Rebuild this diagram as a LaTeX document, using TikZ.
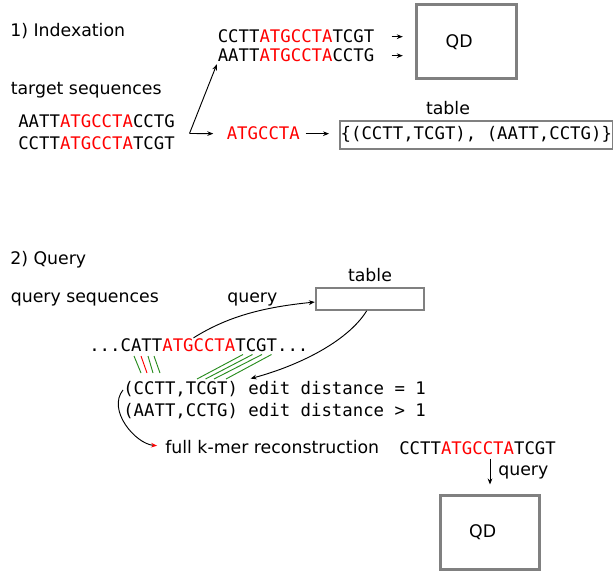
\documentclass[tikz,border=0pt]{standalone}
\usepackage{fontspec}
\setmainfont{DejaVu Sans}
\setmonofont{DejaVu Sans Mono}
\usetikzlibrary{arrows.meta,positioning,calc}

\definecolor{matchgreen}{RGB}{40,140,30}
\newcommand\lbfont{\fontsize{13}{15}\selectfont}
\newcommand\sqfont{\ttfamily\fontsize{13}{15}\selectfont}
\newcommand\km[1]{\textcolor{red}{#1}}

\tikzset{
  lbl/.style={font=\lbfont, inner sep=0pt, anchor=base west},
  seq/.style={font=\sqfont, inner sep=0pt, anchor=base west},
  qdbox/.style={draw=gray, line width=2.25pt, minimum width=74.5pt, minimum height=55.5pt, inner sep=0pt,
    label={[font=\lbfont, xshift=-5.5pt]center:QD}},
  tabbox/.style={draw=gray, line width=1.75pt},
  arr/.style={-{Stealth[length=4.5pt,width=3.5pt]}, line width=0.7pt},
  hit/.style={matchgreen, line width=0.7pt},
  miss/.style={red, line width=0.7pt},
}

\begin{document}
\begin{tikzpicture}[x=0.75pt,y=-0.75pt]
\useasboundingbox (0,0) rectangle (613,573);

% --- Part 1: indexation ---
\node[lbl] (idx) at (10,37) {1) Indexation};
\node[lbl] (tgt) at (10.5,95) {target sequences};
\node[seq] (t1) at (18,128) {AATT\km{ATGCCTA}CCTG};
\node[seq] (t2) at (18,150) {CCTT\km{ATGCCTA}TCGT};

% sequences into the QD
\node[seq] (i1) at (217.5,43) {CCTT\km{ATGCCTA}TCGT};
\node[seq] (i2) at (217.5,62) {AATT\km{ATGCCTA}CCTG};
\node[qdbox] (qd1) at (466.5,42) {};
\draw[arr, shorten <=12.75pt, shorten >=9.4pt] (i1.east) -- (i1.east -| qd1.west);
\draw[arr, shorten <=12.75pt, shorten >=9.4pt] (i2.east) -- (i2.east -| qd1.west);

% k-mer into the table
\coordinate (split) at (189.5,133.5);
\node[seq] (kmer) at (226.5,140) {\km{ATGCCTA}};
\node[seq, tabbox, inner xsep=0.75pt, minimum height=21pt] (tab1) at (338.5,140) {\{(CCTT,TCGT), (AATT,CCTG)\}};
\node[lbl, anchor=base] (tab1lbl) at (448,115) {table};
\draw[arr, shorten >=1.5pt] (split) -- (i2.south west);
\draw[arr, shorten >=9.9pt] (split) -- (kmer.west);
\draw[arr, shorten <=4.1pt, shorten >=7.1pt] (kmer.east) -- (kmer.east -| tab1.west);

% --- Part 2: query ---
\node[lbl] (qry) at (10,265) {2) Query};
\node[lbl] (qsq) at (10.5,302) {query sequences};
\node[tabbox, minimum width=81pt, minimum height=16.5pt] (tab2) at (370,298.7) {};
\node[lbl, anchor=base] (tab2lbl) at (370,281.7) {table};
\node[lbl] (qlbl) at (227,302) {query};
\node[seq] (qseq) at (89,351) {...CATT\km{ATGCCTA}TCGT...};
\node[seq] (ed1) at (123,394) {(CCTT,TCGT) edit distance = 1};
\node[seq] (ed2) at (123,416) {(AATT,CCTG) edit distance > 1};

% ask the table, get the pairs back
\draw[arr] ([xshift=-4pt]qseq.north) .. controls +(35,-22) and +(-50,5) .. ([yshift=-2.5pt]tab2.west);
\draw[arr] ([xshift=-2.5pt]tab2.south) .. controls +(-20,32) and +(45,-12) .. ([xshift=-18pt,yshift=1.5pt]ed1.north);

% matching letters
\foreach \a/\b/\col in {45/18/hit, 52/24/miss, 59/30/hit, 65/37/hit}
  \draw[\col] ($(qseq.base west)+(\a,5)$) -- ($(ed1.base west)+(\b,-21)$);
\foreach \a/\b in {154/74, 163.5/82.5, 173/91, 182.5/103}
  \draw[hit] ($(qseq.base west)+(\a,3.5)$) -- ($(ed1.base west)+(\b,-15)$);

% reconstruction
\node[lbl] (fk) at (165,453) {full k-mer reconstruction};
\draw[-{Stealth[length=4.5pt,width=3.5pt,red]}, line width=0.7pt, shorten >=6pt]
  ([yshift=-1pt]ed1.west) .. controls +(-16,20) and +(-30,-3) .. (fk.west);

% query the QD
\node[seq] (c1) at (399,454) {CCTT\km{ATGCCTA}TCGT};
\node[qdbox] (qd2) at (490,532) {};
\draw[arr, shorten <=3pt, shorten >=6.75pt] (qd2.north |- c1.south) -- (qd2.north);
\node[lbl] (qlbl2) at (498,475) {query};

\end{tikzpicture}
\end{document}
